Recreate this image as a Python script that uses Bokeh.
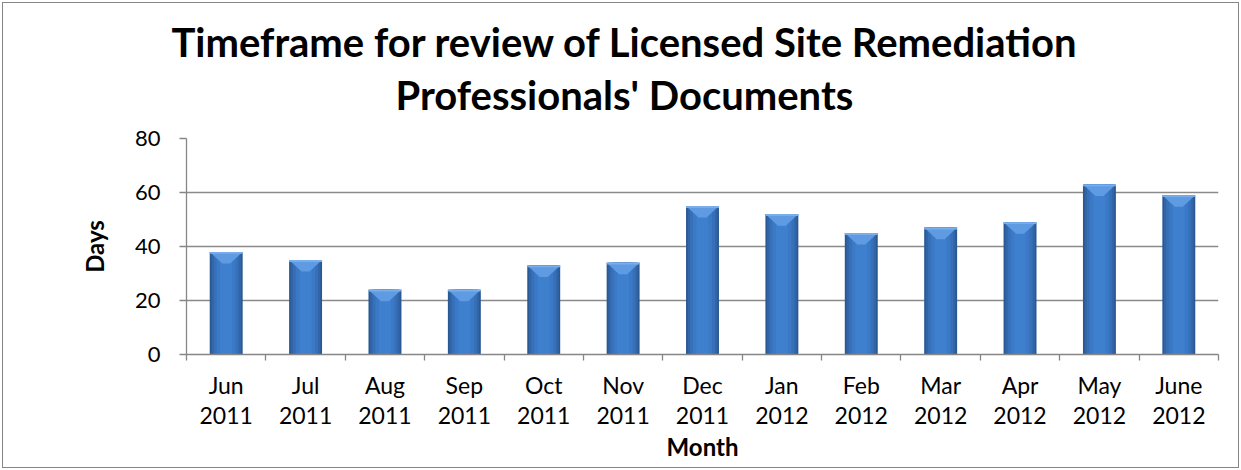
from bokeh.plotting import figure
from bokeh.models import Range1d, FixedTicker, Title
from bokeh.embed import file_html
from bokeh.resources import INLINE

# ---- data ----
months = ["Jun\n2011", "Jul\n2011", "Aug\n2011", "Sep\n2011", "Oct\n2011", "Nov\n2011",
          "Dec\n2011", "Jan\n2012", "Feb\n2012", "Mar\n2012", "Apr\n2012", "May\n2012",
          "June\n2012"]
days = [38, 35, 24, 24, 33, 34, 55, 52, 45, 47, 49, 63, 59]
y_ticks = [0, 20, 40, 60, 80]

title_line1 = "Timeframe for review of Licensed Site Remediation"
title_line2 = "Professionals' Documents"

FONT = "Lato"

n = len(months)
xc = [i + 0.5 for i in range(n)]

p = figure(frame_width=1032, frame_height=216,
           min_border_left=183, min_border_right=20,
           min_border_top=135, min_border_bottom=113,
           x_range=Range1d(0, n), y_range=Range1d(0, 80),
           output_backend="svg", toolbar_location=None, tools="")
p.styles = {"border": "1px solid #868686", "margin": "2px"}
p.outline_line_color = None
p.background_fill_color = "white"
p.border_fill_color = "white"

# title: two lines, centred on the whole chart (offsets from the frame's left edge)
p.title.text = title_line1
p.title.align = "left"
p.title.offset = -15
p.title.standoff = -35
p.title.text_font = FONT
p.title.text_font_style = "bold"
p.title.text_font_size = "40px"
p.title.text_color = "black"
p.add_layout(Title(text=title_line2, align="left", offset=209, standoff=40,
                   text_font=FONT, text_font_style="bold", text_font_size="40px",
                   text_color="black"), "above")

# grid
p.xgrid.visible = False
p.ygrid.ticker = FixedTicker(ticks=y_ticks)
p.ygrid.grid_line_color = "#8a8a8a"
p.ygrid.grid_line_width = 1.3

# bars (layered to imitate the shaded 3D look)
bw = 0.415
layers = [(bw, "#2a5893"), (bw * 0.9, "#3165a6"), (bw * 0.76, "#3670b8"),
          (bw * 0.58, "#3b79c6"), (bw * 0.36, "#3e80ce")]
for w, c in layers:
    p.vbar(x=xc, top=days, bottom=0, width=w, fill_color=c, line_color=None)

# bevel at the top of each bar
bev_h = 4.3
xs, ys = [], []
for x, v in zip(xc, days):
    xs.append([x - bw / 2, x + bw / 2, x + bw * 0.12, x - bw * 0.12])
    ys.append([v, v, v - bev_h, v - bev_h])
p.patches(xs, ys, fill_color="#5e9be3", line_color=None)
p.vbar(x=xc, top=days, bottom=[v - 0.7 for v in days], width=bw,
       fill_color="#7aaeeb", line_color=None)

# y axis
ya = p.yaxis[0]
ya.ticker = FixedTicker(ticks=y_ticks)
ya.axis_line_color = "#868686"
ya.axis_line_width = 1.3
ya.major_tick_line_color = "#868686"
ya.major_tick_line_width = 1.3
ya.major_tick_out = 7
ya.major_tick_in = 0
ya.minor_tick_line_color = None
ya.major_label_standoff = 19
ya.major_label_text_font = FONT
ya.major_label_text_font_size = "22px"
ya.major_label_text_color = "black"
ya.axis_label = "Days"
ya.axis_label_text_font = FONT
ya.axis_label_text_font_style = "bold"
ya.axis_label_text_font_size = "24px"
ya.axis_label_text_color = "black"
ya.axis_label_standoff = 23

# x axis
xa = p.xaxis[0]
xa.ticker = FixedTicker(ticks=xc, minor_ticks=list(range(n + 1)))
xa.major_label_overrides = {x: m for x, m in zip(xc, months)}
xa.axis_line_color = "#868686"
xa.axis_line_width = 1.3
xa.major_tick_line_color = None
xa.major_tick_out = 0
xa.major_tick_in = 0
xa.minor_tick_line_color = "#868686"
xa.minor_tick_line_width = 1.3
xa.minor_tick_out = 6
xa.minor_tick_in = 0
xa.major_label_standoff = 10
xa.major_label_text_font = FONT
xa.major_label_text_font_size = "23px"
xa.major_label_text_color = "black"
xa.major_label_text_line_height = 1.1
xa.axis_label = "Month"
xa.axis_label_text_font = FONT
xa.axis_label_text_font_style = "bold"
xa.axis_label_text_font_size = "24px"
xa.axis_label_text_color = "black"
xa.axis_label_standoff = 0

open("out.html", "w").write(file_html(p, INLINE))
